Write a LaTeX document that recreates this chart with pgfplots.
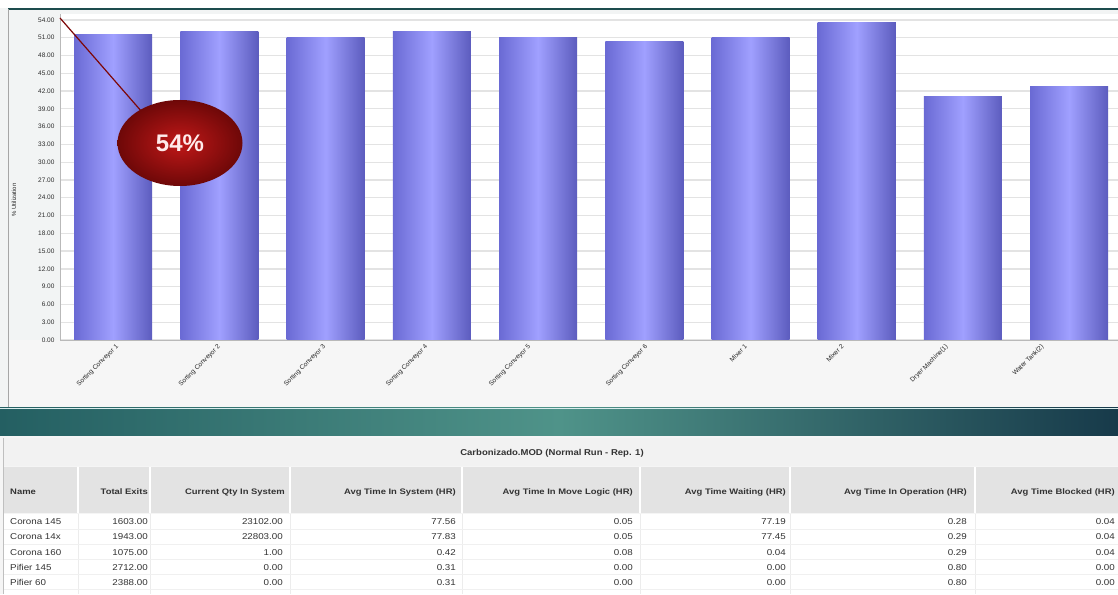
\documentclass[border=0pt]{standalone}
\usepackage{pgfplots}
\pgfplotsset{compat=1.18}
\usetikzlibrary{shapes.geometric}
\usepackage{fontspec}
\setmainfont{Liberation Sans}
\definecolor{barL}{HTML}{6A6AD4}
\definecolor{barM}{HTML}{A0A0FF}
\definecolor{barR}{HTML}{5C5CBE}
\definecolor{bgA}{HTML}{F2F4F4}
\definecolor{tealL}{HTML}{245F62}
\definecolor{tealM}{HTML}{4F9389}
\definecolor{tealR}{HTML}{173A4A}
\definecolor{hdr}{HTML}{E3E3E3}
\definecolor{txt}{HTML}{333333}
\definecolor{calloutIn}{HTML}{C01818}
\definecolor{calloutOut}{HTML}{6E0808}
\begin{document}
\begin{tikzpicture}[x=1pt,y=1pt]
\clip (0,0) rectangle (1118,594);
% backgrounds
\fill[bgA] (0,0) rectangle (1118,594);
\fill[white] (0,586) rectangle (1118,594);
\draw[color=tealL!80!black, line width=1.5pt] (8,585) -- (1118,585);
\draw[color=gray!70, line width=0.8pt] (8,585) -- (8,186);
% teal band
\shade[left color=tealL, right color=tealR, middle color=tealM] (0,158) rectangle (1118,186);
\draw[white!85!teal, line width=0.8pt] (0,186) -- (1118,186);
% table
\fill[gray!8] (0,0) rectangle (1118,158);
\fill[gray!10] (3,128) rectangle (1118,156);
\fill[hdr] (3,81) rectangle (1118,127);
\fill[white] (3,0) rectangle (1118,80);
\foreach \cx in {78,150,290,462,640,790,975} {
  \draw[white, line width=1.2pt] (\cx,81) -- (\cx,127);
  \draw[gray!15, line width=0.5pt] (\cx,0) -- (\cx,80);
}
\foreach \ry in {65,50,35,20,5} {\draw[gray!12, line width=0.5pt] (3,\ry) -- (1118,\ry);}
\draw[gray!50, line width=0.8pt] (3,0) -- (3,156);
\node[font=\bfseries\fontsize{8.5}{10}\selectfont, text=txt, xscale=1.12, anchor=base] at (552,138) {Carbonizado.MOD (Normal Run - Rep. 1)};
\tikzset{hd/.style={font=\bfseries\fontsize{8}{10}\selectfont, text=txt, xscale=1.18, inner sep=0pt}}
\node[hd, anchor=base west] at (10,99) {Name};
\node[hd, anchor=base east] at (148,99) {Total Exits};
\node[hd, anchor=base east] at (285,99) {Current Qty In System};
\node[hd, anchor=base east] at (456,99) {Avg Time In System (HR)};
\node[hd, anchor=base east] at (633,99) {Avg Time In Move Logic (HR)};
\node[hd, anchor=base east] at (786,99) {Avg Time Waiting (HR)};
\node[hd, anchor=base east] at (967,99) {Avg Time In Operation (HR)};
\node[hd, anchor=base east] at (1115,99) {Avg Time Blocked (HR)};
\tikzset{td/.style={font=\fontsize{8.5}{10}\selectfont, text=txt, xscale=1.15, inner sep=0pt}}
\foreach \y/\n/\a/\b/\c/\d/\e/\f/\g in {
  69/Corona 145/1603.00/23102.00/77.56/0.05/77.19/0.28/0.04,
  54/Corona 14x/1943.00/22803.00/77.83/0.05/77.45/0.29/0.04,
  39/Corona 160/1075.00/1.00/0.42/0.08/0.04/0.29/0.04,
  24/Pifier 145/2712.00/0.00/0.31/0.00/0.00/0.80/0.00,
  9/Pifier 60/2388.00/0.00/0.31/0.00/0.00/0.80/0.00} {
  \node[td, anchor=base west] at (10,\y) {\n};
  \node[td, anchor=base east] at (148,\y) {\a};
  \node[td, anchor=base east] at (283,\y) {\b};
  \node[td, anchor=base east] at (456,\y) {\c};
  \node[td, anchor=base east] at (633,\y) {\d};
  \node[td, anchor=base east] at (786,\y) {\e};
  \node[td, anchor=base east] at (967,\y) {\f};
  \node[td, anchor=base east] at (1115,\y) {\g};
}
% label area
\fill[gray!7] (9,186.8) rectangle (1118,254);
% y label
\node[rotate=90, font=\fontsize{6}{7}\selectfont, text=gray!30!black] at (14,394) {\% Utilization};
\begin{axis}[
  at={(60pt,254pt)}, anchor=south west, scale only axis,
  width=1058pt, height=326pt,
  xmin=-0.5, xmax=9.46, ymin=0, ymax=55,
  axis background/.style={fill=white},
  ytick={0,3,...,54},
  ymajorgrids, grid style={gray!22, line width=1.3pt},
  major tick length=0pt,
  axis x line*=bottom, axis y line*=left,
  axis line style={gray!55, line width=0.8pt},
  yticklabel style={font=\fontsize{6.5}{7}\selectfont, text=gray!35!black, xshift=-2pt,
    /pgf/number format/.cd, fixed, fixed zerofill, precision=2, assume math mode=true},
  xtick={0,0.96,1.95,2.91,3.88,4.98,5.92,6.83,7.81,8.71},
  xticklabels={Sorting Conveyor 1,Sorting Conveyor 2,Sorting Conveyor 3,Sorting Conveyor 4,Sorting Conveyor 5,Sorting Conveyor 6,Mixer 1,Mixer 2,Dryer Machine(1),Water Tank(2)},
  xticklabel style={rotate=45, anchor=north east, font=\fontsize{6.5}{7}\selectfont, text=gray!30!black, inner sep=1pt, yshift=-3pt},
  clip=false,
  cyl/.style={ybar, bar width=78pt, bar shift=0pt, draw=none, left color=barL, right color=barR, middle color=barM},
]
\addplot[cyl] coordinates {(0,51.5)};
\addplot[cyl] coordinates {(1,52.0)};
\addplot[cyl] coordinates {(2,51.0)};
\addplot[cyl] coordinates {(3,52.1)};
\addplot[cyl] coordinates {(4,51.0)};
\addplot[cyl] coordinates {(5,50.3)};
\addplot[cyl] coordinates {(6,51.0)};
\addplot[cyl] coordinates {(7,53.5)};
\addplot[cyl] coordinates {(8,41.0)};
\addplot[cyl] coordinates {(9,42.7)};
\end{axis}
% callout
\draw[color=calloutOut!90!red, line width=1.2pt] (60,576) -- (142,482);
\node[ellipse, minimum width=125pt, minimum height=86pt, inner color=calloutIn, outer color=calloutOut,
  font=\bfseries\fontsize{24}{26}\selectfont, text=white!92!red] at (180,451) {54\%};
\end{tikzpicture}
\end{document}
